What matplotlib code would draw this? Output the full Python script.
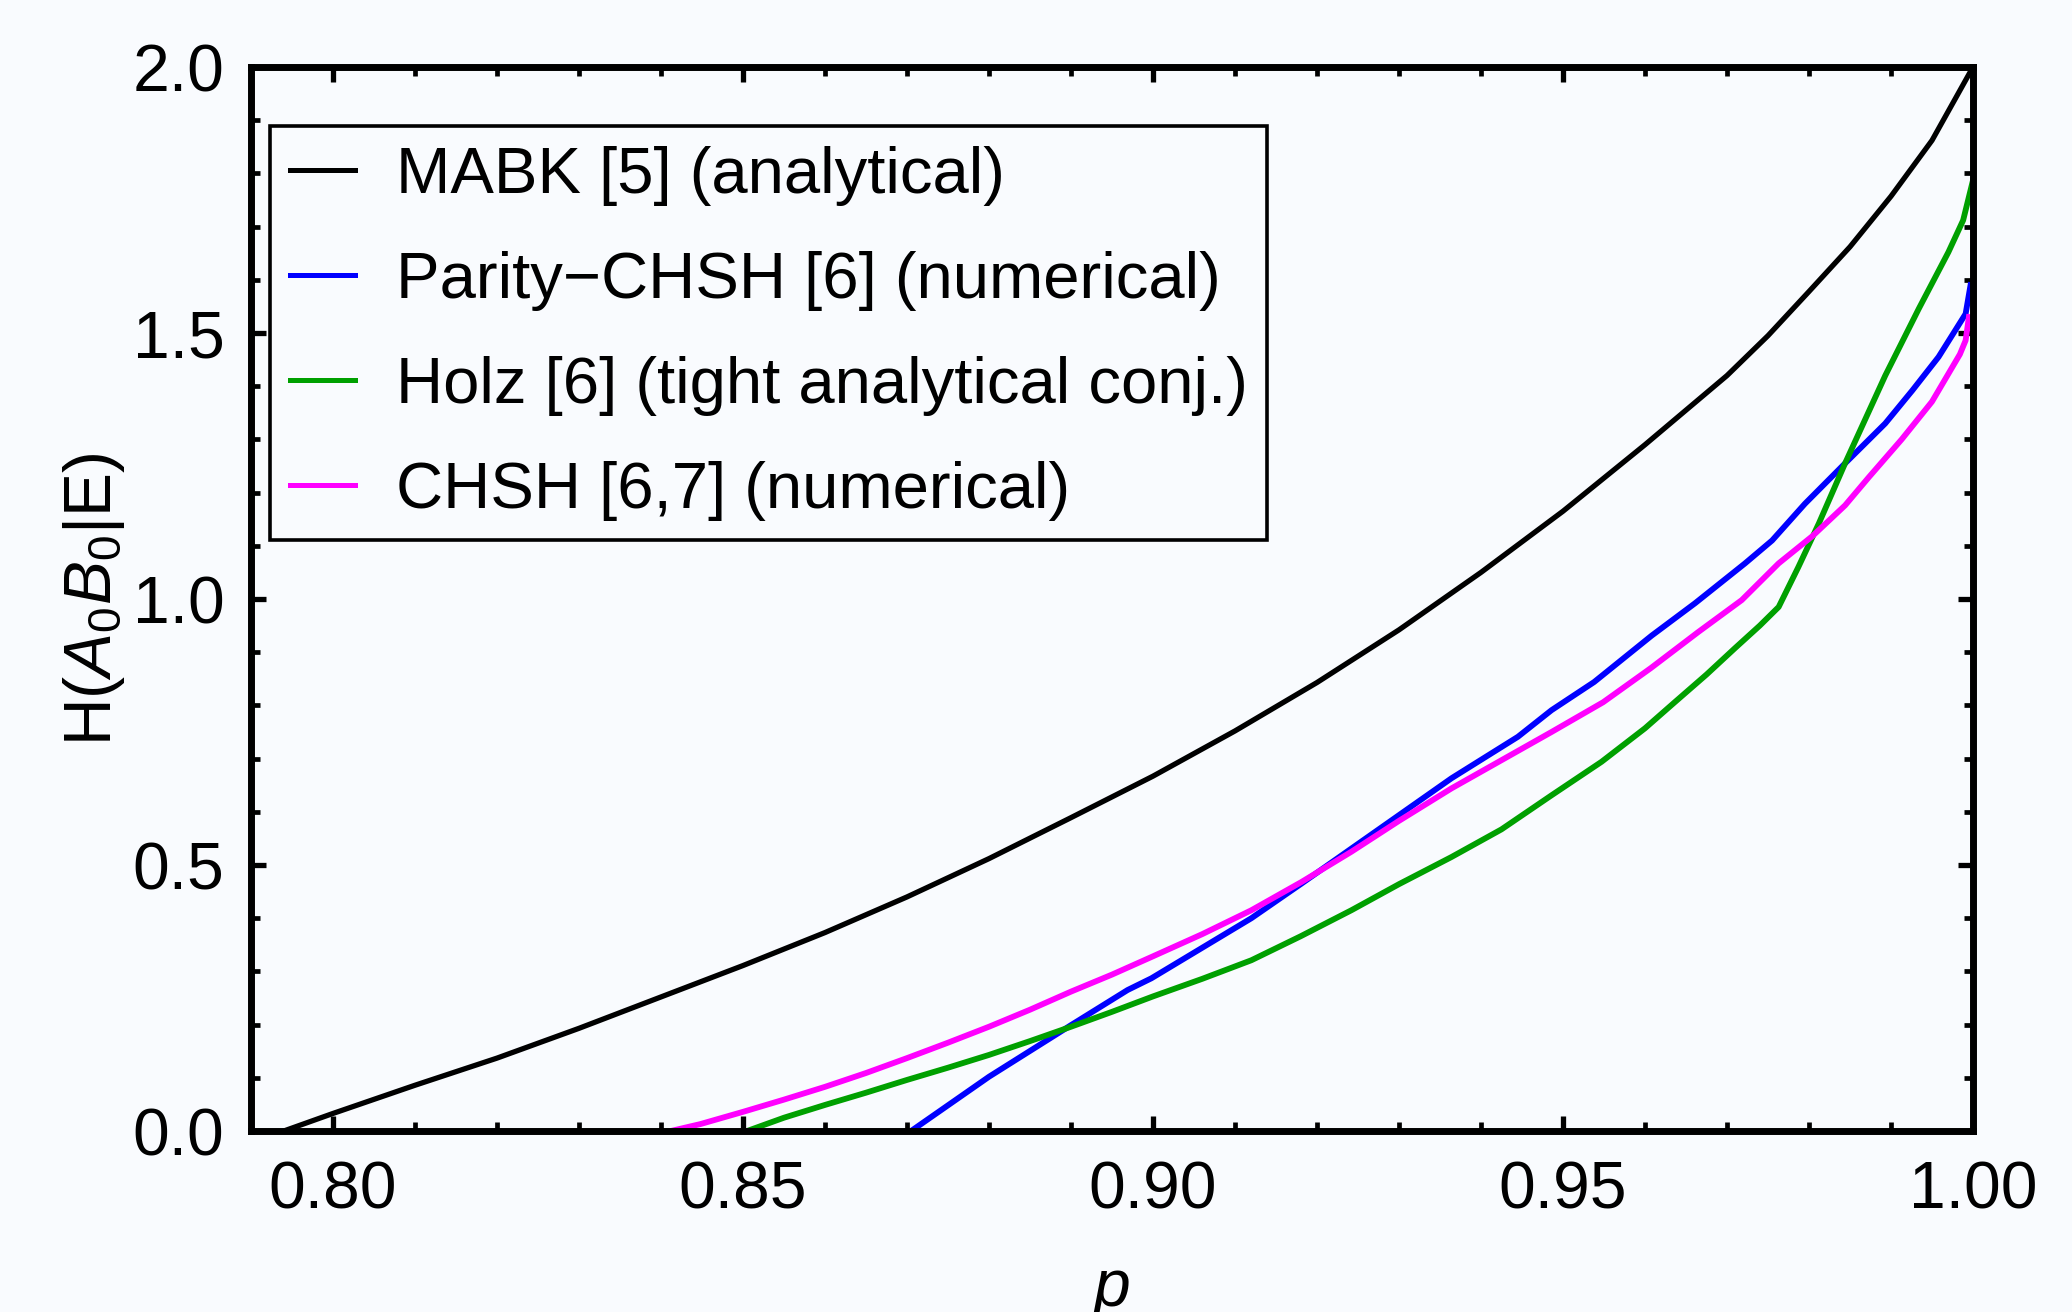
import matplotlib
matplotlib.use("Agg")
import matplotlib.pyplot as plt
from matplotlib.ticker import MultipleLocator

plt.rcParams['font.family'] = ['Liberation Sans', 'DejaVu Sans']
plt.rcParams['mathtext.fontset'] = 'custom'
plt.rcParams['mathtext.rm'] = 'Liberation Sans'
plt.rcParams['mathtext.it'] = 'Liberation Sans:italic'

# ---- data ----
mabk_p = [0.7940, 0.80, 0.81, 0.82, 0.83, 0.84, 0.85, 0.86, 0.87, 0.88, 0.89, 0.90,
          0.91, 0.92, 0.93, 0.94, 0.95, 0.96, 0.97, 0.975, 0.98, 0.985, 0.99, 0.995, 1.0]
mabk_h = [0.0, 0.033, 0.086, 0.137, 0.193, 0.252, 0.311, 0.373, 0.440, 0.512, 0.589, 0.667,
          0.752, 0.843, 0.942, 1.050, 1.165, 1.290, 1.420, 1.495, 1.578, 1.662, 1.757, 1.862, 2.0]

parity_p = [0.8705, 0.880, 0.890, 0.8969, 0.8998, 0.912, 0.9181, 0.9242, 0.9364, 0.9445,
            0.9486, 0.9538, 0.9608, 0.9661, 0.9722, 0.9755, 0.9795, 0.9844, 0.9893,
            0.9926, 0.9958, 0.9991, 0.9997]
parity_h = [0.0, 0.102, 0.199, 0.265, 0.287, 0.400, 0.465, 0.531, 0.663, 0.741,
            0.791, 0.844, 0.931, 0.992, 1.067, 1.110, 1.179, 1.255, 1.330,
            1.392, 1.455, 1.536, 1.590]

holz_p = [0.8505, 0.855, 0.86, 0.865, 0.87, 0.875, 0.88, 0.885, 0.89, 0.895, 0.90, 0.906,
          0.912, 0.918, 0.9242, 0.930, 0.9364, 0.9425, 0.9486, 0.9547, 0.960, 0.9637,
          0.9675, 0.971, 0.9740, 0.9763, 0.9787, 0.9812, 0.9844, 0.9893, 0.9934, 0.997,
          0.9988, 1.0]
holz_h = [0.0, 0.025, 0.049, 0.072, 0.096, 0.119, 0.143, 0.169, 0.196, 0.224, 0.253, 0.286,
          0.321, 0.366, 0.415, 0.464, 0.515, 0.567, 0.631, 0.694, 0.757, 0.807,
          0.858, 0.908, 0.950, 0.985, 1.060, 1.142, 1.255, 1.420, 1.546, 1.652,
          1.712, 1.787]

chsh_p = [0.8412, 0.8448, 0.85, 0.855, 0.86, 0.865, 0.87, 0.875, 0.88, 0.885, 0.89, 0.895,
          0.8998, 0.906, 0.912, 0.9181, 0.9242, 0.930, 0.9364, 0.9425, 0.9486, 0.9549,
          0.9607, 0.9665, 0.9718, 0.9763, 0.9804, 0.9844, 0.9873, 0.9913, 0.995, 0.9984,
          0.9991, 0.9995]
chsh_h = [0.0, 0.013, 0.036, 0.059, 0.083, 0.109, 0.137, 0.166, 0.196, 0.228, 0.262, 0.294,
          0.327, 0.370, 0.415, 0.468, 0.525, 0.583, 0.644, 0.697, 0.750, 0.806,
          0.870, 0.938, 0.998, 1.067, 1.118, 1.176, 1.229, 1.300, 1.371, 1.460,
          1.486, 1.530]

labels = ['MABK [5] (analytical)', 'Parity\u2212CHSH [6] (numerical)',
          'Holz [6] (tight analytical conj.)', 'CHSH [6,7] (numerical)']
colors = ['#000000', '#0000ff', '#00a000', '#ff00ff']

xticks = [0.80, 0.85, 0.90, 0.95, 1.00]
yticks = [0.0, 0.5, 1.0, 1.5, 2.0]

bg = '#f9fbfe'
fig = plt.figure(figsize=(20.72, 13.12), dpi=100, facecolor=bg)
ax = fig.add_axes([251/2072, 1 - 1131/1312, 1722/2072, 1064/1312])
ax.set_facecolor(bg)

lw = 4.2
ax.plot(mabk_p, mabk_h, color=colors[0], lw=3.8, label=labels[0], solid_joinstyle='round')
ax.plot(parity_p, parity_h, color=colors[1], lw=lw, label=labels[1], solid_joinstyle='round')
ax.plot(holz_p, holz_h, color=colors[2], lw=lw, label=labels[2], solid_joinstyle='round')
ax.plot(chsh_p, chsh_h, color=colors[3], lw=lw, label=labels[3], solid_joinstyle='round')

ax.set_xlim(0.79, 1.0)
ax.set_ylim(0.0, 2.0)
ax.set_xticks(xticks)
ax.set_xticklabels([f'{t:.2f}' for t in xticks])
ax.set_yticks(yticks)
ax.set_yticklabels([f'{t:.1f}' for t in yticks])
ax.xaxis.set_minor_locator(MultipleLocator(0.01))
ax.yaxis.set_minor_locator(MultipleLocator(0.1))

fs = 47.5
ax.tick_params(which='both', direction='in', top=True, right=True, labelsize=fs, colors='black')
ax.tick_params(which='major', length=11, width=3.8)
ax.tick_params(which='minor', length=6.5, width=3.4)
ax.tick_params(axis='x', which='major', pad=21)
ax.tick_params(axis='y', which='major', pad=19)
for s in ax.spines.values():
    s.set_linewidth(5.0)
    s.set_color('black')

ax.set_xlabel('p', fontsize=fs, style='italic', labelpad=26)
ax.set_ylabel(r'H($A_0B_0$|E)', fontsize=fs, labelpad=4)

leg = ax.legend(loc='upper left', bbox_to_anchor=(0.011, 0.9445), borderaxespad=0,
                fontsize=47.0, frameon=True, fancybox=False, framealpha=1,
                handlelength=1.0, handletextpad=0.63, labelspacing=0.69, borderpad=0.3)
leg.get_frame().set_edgecolor('black')
leg.get_frame().set_linewidth(2.6)
leg.get_frame().set_facecolor(bg)
for h in leg.get_lines():
    h.set_linewidth(3.6)

fig.savefig('out.png', dpi=100, facecolor=bg)
